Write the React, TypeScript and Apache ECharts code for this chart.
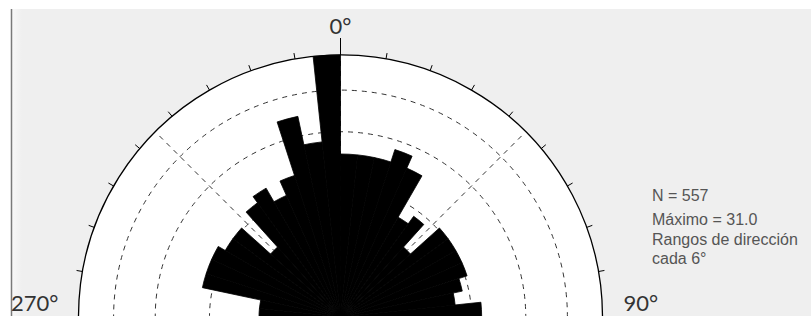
import React, { useEffect, useRef } from "react";
import * as echarts from "echarts";

// Direction bins (start angle, degrees), every 6°
const binStarts: number[] = [
  0, 6, 12, 18, 24, 30, 36, 42, 48, 54, 60, 66, 72, 78, 84, 90, 96, 102, 108, 114,
  120, 126, 132, 138, 144, 150, 156, 162, 168, 174, 180, 186, 192, 198, 204, 210, 216, 222, 228, 234,
  240, 246, 252, 258, 264, 270, 276, 282, 288, 294, 300, 306, 312, 318, 324, 330, 336, 342, 348, 354,
];

// Counts per bin (equal-area rose: radius ∝ sqrt(count))
const counts: number[] = [
  12, 12, 12, 14, 12, 6, 7, 4, 8, 8, 8, 8, 7, 6, 9,
  7, 8, 9, 10, 9, 10, 11, 10, 9, 10, 10, 11, 10, 9, 9,
  10, 9, 8, 9, 10, 9, 8, 9, 9, 8, 9, 8, 8, 6, 8,
  3, 3, 9, 9, 9, 8, 8, 4, 9, 10, 8, 10, 19, 14, 31,
];

const maxCount = 31;
const ringFractions: number[] = [0.25, 0.5, 0.75];
const angleLabels: string[] = ["0°", "90°", "270°"];
const infoLines: string[] = ["N = 557", "Máximo = 31.0", "Rangos de dirección", "cada 6°"];
const infoY: number[] = [195, 219, 239, 258];

const CX = 340.5;
const CY = 317;
const R = 262;
const FONT = "Lato, 'Open Sans', sans-serif";
const INFO_FONT = "'Liberation Sans', Arial, sans-serif";

export default function App() {
  const ref = useRef<HTMLDivElement>(null);

  useEffect(() => {
    document.body.style.margin = "0";
    if (!ref.current) return;
    const chart = echarts.init(ref.current, undefined, { renderer: "svg" });

    const hiddenRadius = (polarIndex: number, max = 1) => ({
      polarIndex,
      type: "value",
      min: 0,
      max,
      show: false,
      axisLine: { show: false },
      axisTick: { show: false },
      axisLabel: { show: false },
      splitLine: { show: false },
    });

    const polars: any[] = [
      { center: [CX, CY], radius: R }, // 0 bars
      { center: [CX, CY], radius: R }, // 1 outer circle + 10° ticks
      { center: [CX, CY], radius: R }, // 2 long ticks at cardinal
      { center: [CX, CY], radius: R - 6 }, // 3 radial dashed lines
      ...ringFractions.map((f) => ({ center: [CX, CY], radius: R * Math.sqrt(f) })),
    ];

    const dashed = { color: "#333", width: 1, type: [5, 5] as any };

    const angleAxes: any[] = [
      {
        polarIndex: 0,
        type: "category",
        data: binStarts.map(String),
        startAngle: 90,
        clockwise: true,
        boundaryGap: true,
        axisLine: { show: false },
        axisTick: { show: false },
        axisLabel: { show: false },
        splitLine: { show: false },
        z: 1,
      },
      {
        polarIndex: 1,
        type: "value",
        min: 0,
        max: 360,
        interval: 10,
        startAngle: 90,
        clockwise: true,
        axisLine: { show: true, lineStyle: { color: "#000", width: 1.3 } },
        axisTick: { show: true, inside: false, length: 6, lineStyle: { color: "#000", width: 1 } },
        axisLabel: { show: false },
        splitLine: { show: false },
        z: 3,
      },
      {
        polarIndex: 2,
        type: "value",
        min: 0,
        max: 360,
        interval: 90,
        startAngle: 90,
        clockwise: true,
        axisLine: { show: false },
        axisTick: { show: true, inside: false, length: 17, lineStyle: { color: "#000", width: 1 } },
        axisLabel: { show: false },
        splitLine: { show: false },
        z: 3,
      },
      {
        polarIndex: 3,
        type: "value",
        min: 0,
        max: 360,
        interval: 45,
        startAngle: 90,
        clockwise: true,
        axisLine: { show: false },
        axisTick: { show: false },
        axisLabel: { show: false },
        splitLine: { show: true, lineStyle: dashed },
        z: 1,
      },
      ...ringFractions.map((_, k) => ({
        polarIndex: 4 + k,
        type: "value",
        min: 0,
        max: 360,
        interval: 90,
        startAngle: 90,
        clockwise: true,
        axisLine: { show: true, lineStyle: dashed },
        axisTick: { show: false },
        axisLabel: { show: false },
        splitLine: { show: false },
        z: 1,
      })),
    ];

    const radiusAxes: any[] = polars.map((_, i) => hiddenRadius(i, i === 0 ? Math.sqrt(maxCount) : 1));

    const option: any = {
      animation: false,
      backgroundColor: "#ffffff",
      polar: polars,
      angleAxis: angleAxes,
      radiusAxis: radiusAxes,
      series: [
        {
          type: "bar",
          coordinateSystem: "polar",
          polarIndex: 0,
          data: counts.map((c) => Math.sqrt(c)),
          barCategoryGap: "0%",
          barGap: "0%",
          itemStyle: { color: "#000", borderColor: "#000", borderWidth: 0.8 },
          z: 10,
          silent: true,
        },
      ],
      graphic: [
        {
          type: "rect",
          shape: { x: 11, y: 9, width: 811 - 11, height: 316 - 9 },
          style: { fill: "#efefef" },
          z: -30,
          silent: true,
        },
        {
          type: "rect",
          shape: { x: 12, y: 9, width: 10, height: 316 - 9 },
          style: {
            fill: new echarts.graphic.LinearGradient(0, 0, 1, 0, [
              { offset: 0, color: "#f8f8f8" },
              { offset: 1, color: "#efefef" },
            ]),
          },
          z: -29,
          silent: true,
        },
        {
          type: "line",
          shape: { x1: 11.5, y1: 9, x2: 11.5, y2: 316 },
          style: { stroke: "#7a7a7a", lineWidth: 1.5 },
          z: -28,
          silent: true,
        },
        {
          type: "circle",
          shape: { cx: CX, cy: CY, r: R },
          style: { fill: "#ffffff" },
          z: -20,
          silent: true,
        },
        {
          type: "text",
          x: CX,
          y: CY - R - 30,
          style: { text: angleLabels[0], font: `22px ${FONT}`, fill: "#333", align: "center", verticalAlign: "middle" },
          z: 5,
        },
        {
          type: "text",
          x: CX + R + 21,
          y: CY - 15,
          style: { text: angleLabels[1], font: `22px ${FONT}`, fill: "#333", align: "left", verticalAlign: "middle" },
          z: 5,
        },
        {
          type: "text",
          x: CX - R - 20,
          y: CY - 15,
          style: { text: angleLabels[2], font: `22px ${FONT}`, fill: "#333", align: "right", verticalAlign: "middle" },
          z: 5,
        },
        ...infoLines.map((t, i) => ({
          type: "text",
          x: 652,
          y: infoY[i],
          style: { text: t, font: `16px ${INFO_FONT}`, fill: "#555", align: "left", verticalAlign: "middle" },
          z: 5,
        })),
      ],
    };

    chart.setOption(option);
    return () => chart.dispose();
  }, []);

  return <div ref={ref} style={{ width: 811, height: 316 }} />;
}
